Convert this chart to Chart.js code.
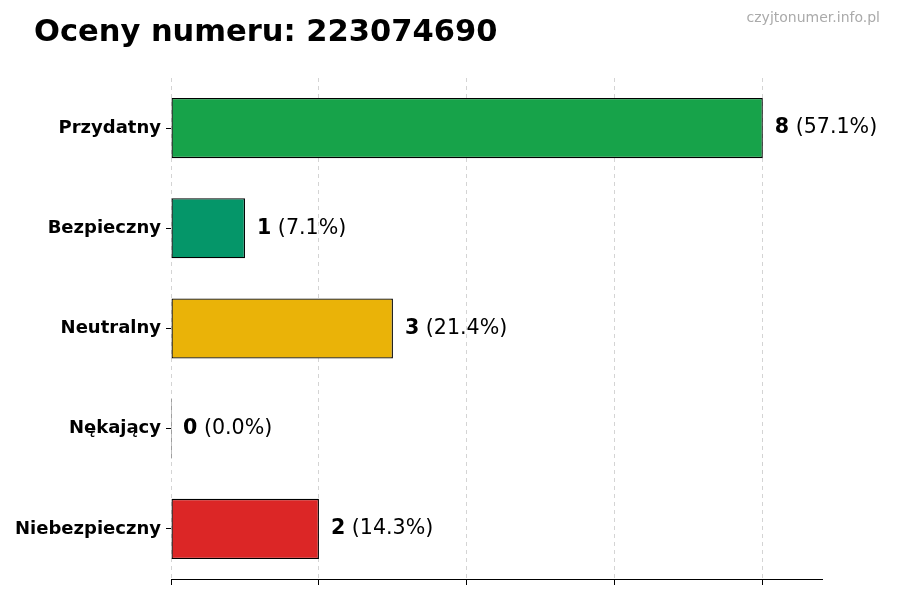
<!DOCTYPE html>
<html>
<head>
<meta charset="utf-8">
<script src="https://cdn.jsdelivr.net/npm/chart.js@4/dist/chart.umd.min.js"></script>
<style>
  html, body { margin: 0; padding: 0; background: #fff; }
  #wrap { width: 900px; height: 600px; position: relative; }
</style>
</head>
<body>
<div id="wrap"><canvas id="chart-bar"></canvas></div>
<script>
const categories = ["Przydatny", "Bezpieczny", "Neutralny", "Nękający", "Niebezpieczny"];
const counts = [8, 1, 3, 0, 2];
const barColors = ["#17a34a", "#059669", "#eab308", "#6b7280", "#dc2626"];
const xTicks = [0, 2, 4, 6, 8];
const titleText = "Oceny numeru: 223074690";
const sourceText = "czyjtonumer.info.pl";

const FONT = "'DejaVu Sans', sans-serif";
const total = counts.reduce((a, b) => a + b, 0);

// title, watermark and value labels next to the bars
const labelsPlugin = {
  id: "labels",
  afterDraw(chart) {
    const ctx = chart.ctx;
    ctx.save();
    ctx.fillStyle = "#000";
    ctx.font = "bold 30.5px " + FONT;
    ctx.textAlign = "left";
    ctx.textBaseline = "alphabetic";
    ctx.fillText(titleText, 34, 41);

    ctx.fillStyle = "#aaaaaa";
    ctx.font = "14px " + FONT;
    ctx.textAlign = "right";
    ctx.fillText(sourceText, 880, 22);

    const meta = chart.getDatasetMeta(0);
    ctx.textAlign = "left";
    ctx.textBaseline = "middle";
    meta.data.forEach((bar, i) => {
      const num = String(counts[i]);
      const pct = " (" + (total ? (counts[i] / total * 100) : 0).toFixed(1) + "%)";
      let x = chart.scales.x.getPixelForValue(counts[i]) + 12;
      ctx.fillStyle = "#000";
      ctx.font = "bold 20.6px " + FONT;
      ctx.fillText(num, x, bar.y);
      x += ctx.measureText(num).width;
      ctx.font = "20.6px " + FONT;
      ctx.fillText(pct, x, bar.y);
    });
    ctx.restore();
  }
};

document.addEventListener("DOMContentLoaded", function () {
  const ctx = document.getElementById("chart-bar").getContext("2d");

  new Chart(ctx, {
    type: "bar",
    data: {
      labels: categories,
      datasets: [
        {
          data: counts,
          backgroundColor: barColors,
          borderColor: "#000",
          borderWidth: 1.3,
          borderSkipped: false,
          minBarLength: 1,
          barPercentage: 0.6,
          categoryPercentage: 1.0,
        },
      ],
    },
    options: {
      indexAxis: "y",
      responsive: true,
      maintainAspectRatio: false,
      animation: false,
      layout: {
        padding: { left: 0, right: 78, top: 78, bottom: 10 },
      },
      plugins: {
        legend: { display: false },
        title: { display: false },
        tooltip: { enabled: false },
      },
      scales: {
        x: {
          min: 0,
          max: 8.8,
          afterBuildTicks: (scale) => {
            scale.ticks = xTicks.map((v) => ({ value: v }));
          },
          afterFit: (scale) => {
            scale.height = 11;
          },
          ticks: { display: false },
          grid: {
            color: "#d4d4d4",
            lineWidth: 1,
            tickLength: 6,
            tickColor: "#000",
          },
          border: { display: true, color: "#000", width: 1, dash: [4, 4] },
        },
        y: {
          afterFit: (scale) => {
            scale.width = 171;
          },
          ticks: {
            color: "#000",
            padding: 5,
            font: { family: FONT, size: 18, weight: "bold" },
          },
          grid: {
            offset: false,
            drawOnChartArea: false,
            color: "transparent",
            tickColor: "#000",
            tickLength: 5,
          },
          border: { display: false },
        },
      },
    },
    plugins: [labelsPlugin],
  });
});
</script>
</body>
</html>
